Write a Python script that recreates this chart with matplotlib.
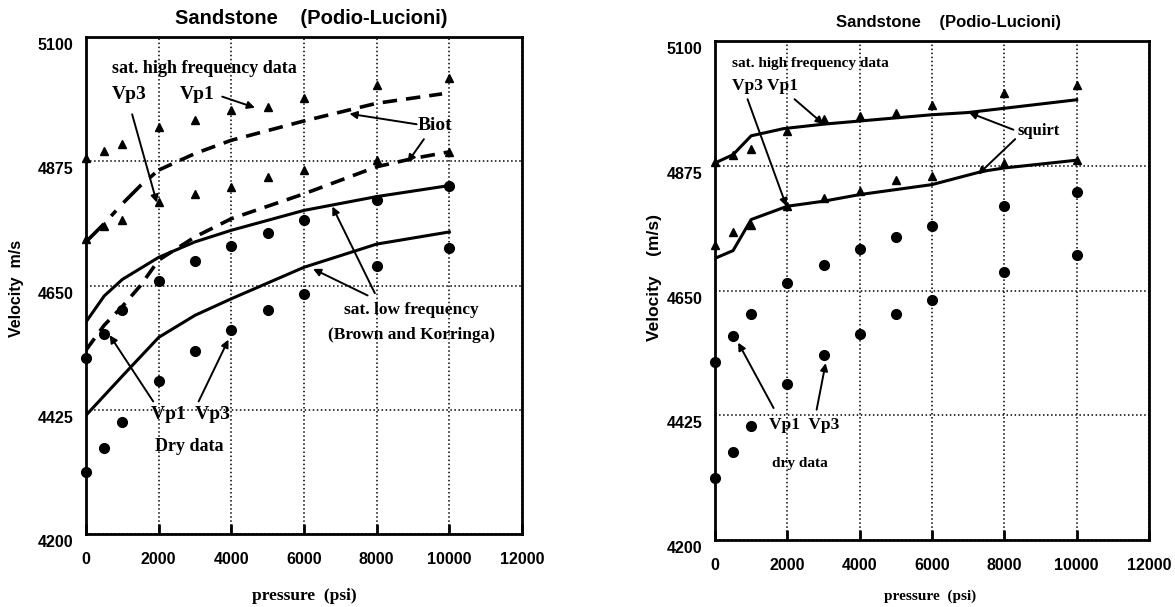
import matplotlib.pyplot as plt
import matplotlib.transforms as mtransforms

# ---------- data ----------
pressure = [0, 500, 1000, 2000, 3000, 4000, 5000, 6000, 8000, 10000]

# left panel (Biot / Brown-Korringa)
L_sat_vp1 = [4880, 4894, 4907, 4937, 4949, 4968, 4974, 4989, 5013, 5025]
L_sat_vp3 = [4735, 4757, 4769, 4801, 4815, 4828, 4847, 4860, 4877, 4892]
L_dry_vp1 = [4519, 4563, 4606, 4659, 4694, 4721, 4745, 4768, 4805, 4831]
L_dry_vp3 = [4312, 4356, 4403, 4477, 4531, 4570, 4606, 4635, 4686, 4718]

biot_hi_p = [0, 500, 1000, 1500, 2000, 3000, 4000, 6000, 8000, 9800]
biot_hi_v = [4729, 4762, 4798, 4831, 4859, 4889, 4913, 4948, 4980, 4997]
biot_lo_p = [0, 500, 1000, 1500, 2000, 3000, 4000, 6000, 8000, 9000, 10000]
biot_lo_v = [4533, 4578, 4612, 4650, 4696, 4738, 4771, 4816, 4865, 4880, 4892]

bk_hi_p = [0, 500, 1000, 2000, 3000, 4000, 6000, 8000, 10000]
bk_hi_v = [4584, 4631, 4661, 4701, 4729, 4750, 4786, 4811, 4831]
bk_lo_p = [0, 1000, 2000, 3000, 4000, 6000, 8000, 10000]
bk_lo_v = [4415, 4486, 4556, 4596, 4626, 4683, 4725, 4747]

# right panel (squirt)
R_sat_vp1 = [4882, 4895, 4906, 4938, 4960, 4965, 4971, 4985, 5007, 5020]
R_sat_vp3 = [4732, 4756, 4768, 4802, 4817, 4830, 4850, 4856, 4880, 4886]
R_dry_vp1 = [4521, 4568, 4608, 4663, 4696, 4724, 4747, 4767, 4803, 4827]
R_dry_vp3 = [4312, 4359, 4406, 4481, 4533, 4571, 4607, 4632, 4683, 4714]

sq_hi_p = [0, 500, 1000, 1900, 3000, 6000, 7000, 10000]
sq_hi_v = [4880, 4895, 4929, 4942, 4950, 4967, 4971, 4994]
sq_lo_p = [0, 500, 1000, 2000, 3000, 4000, 6000, 7400, 8000, 10000]
sq_lo_v = [4708, 4722, 4778, 4802, 4811, 4823, 4841, 4865, 4871, 4885]

x_ticks = [0, 2000, 4000, 6000, 8000, 10000, 12000]
y_ticks = [4200, 4425, 4650, 4875, 5100]

SANS = 'Liberation Sans'
SERIF = 'Liberation Serif'

fig = plt.figure(figsize=(11.75, 6.07), dpi=100)
W, H = 1175, 607
ARROW = dict(arrowstyle='-|>', color='k', lw=1.4, mutation_scale=11, shrinkA=0, shrinkB=0)


def make_axes(l, t, r, b):
    return fig.add_axes([l / W, 1 - b / H, (r - l) / W, (b - t) / H])


def style_axes(ax, fs):
    ax.set_xlim(0, 12000)
    ax.set_ylim(4200, 5100)
    ax.set_xticks(x_ticks)
    ax.set_yticks(y_ticks)
    ax.grid(True, ls=':', color='k', lw=1.1)
    for s in ax.spines.values():
        s.set_linewidth(2)
    ax.tick_params(axis='x', direction='in', length=7, width=2, pad=13)
    ax.tick_params(axis='y', direction='in', length=0, pad=9)
    for lab in ax.get_xticklabels() + ax.get_yticklabels():
        lab.set_fontfamily(SANS)
        lab.set_fontweight('bold')
        lab.set_fontsize(fs)
    # scanned labels sit a little below their grid lines
    off = mtransforms.ScaledTranslation(0, -7 / 100, fig.dpi_scale_trans)
    for lab in ax.get_yticklabels():
        lab.set_transform(lab.get_transform() + off)


def label(ax, txt, x, y, fs, ha='center'):
    ax.text(x, y, txt, ha=ha, va='center', fontsize=fs,
            fontfamily=SERIF, fontweight='bold')


# ---------- left panel ----------
ax1 = make_axes(86, 37, 522, 534)
ax1.plot(biot_hi_p[:5], biot_hi_v[:5], color='k', lw=2.6, dashes=(7, 3, 2, 3))
ax1.plot(biot_hi_p[4:], biot_hi_v[4:], color='k', lw=2.6, dashes=(4, 2.5))
ax1.plot(biot_lo_p, biot_lo_v, color='k', lw=2.6, dashes=(4, 2.5))
ax1.plot(bk_hi_p, bk_hi_v, color='k', lw=2.2)
ax1.plot(bk_lo_p, bk_lo_v, color='k', lw=2.2)
ax1.plot(pressure, L_sat_vp1, '^', color='k', ms=6, clip_on=False)
ax1.plot(pressure, L_sat_vp3, '^', color='k', ms=6, clip_on=False)
ax1.plot(pressure, L_dry_vp1, 'o', color='k', ms=7, clip_on=False)
ax1.plot(pressure, L_dry_vp3, 'o', color='k', ms=7, clip_on=False)
style_axes(ax1, 11.5)

label(ax1, 'sat. high frequency data', 3250, 5043, 13)
label(ax1, 'Vp3', 1200, 4995, 14)
label(ax1, 'Vp1', 3050, 4995, 14)
ax1.annotate('', xy=(4650, 4972), xytext=(3750, 4992), arrowprops=ARROW)
ax1.annotate('', xy=(1950, 4800), xytext=(1270, 4960), arrowprops=ARROW)
label(ax1, 'Biot', 9600, 4940, 14)
ax1.annotate('', xy=(7250, 4961), xytext=(9100, 4942), arrowprops=ARROW)
ax1.annotate('', xy=(8850, 4873), xytext=(9300, 4915), arrowprops=ARROW)
label(ax1, 'sat. low frequency', 8950, 4606, 12.5)
label(ax1, '(Brown and Korringa)', 8950, 4560, 12.5)
ax1.annotate('', xy=(6780, 4793), xytext=(7950, 4636), arrowprops=ARROW)
ax1.annotate('', xy=(6250, 4680), xytext=(7750, 4632), arrowprops=ARROW)
label(ax1, 'Vp1  Vp3', 2880, 4416, 14)
label(ax1, 'Dry data', 2830, 4358, 13)
ax1.annotate('', xy=(650, 4560), xytext=(1850, 4440), arrowprops=ARROW)
ax1.annotate('', xy=(3920, 4552), xytext=(3100, 4440), arrowprops=ARROW)

fig.text(311 / W, 1 - 18 / H, 'Sandstone    (Podio-Lucioni)', ha='center', va='center',
         fontsize=14.5, fontfamily=SANS, fontweight='bold')
fig.text(17 / W, 1 - 288 / H, 'Velocity  m/s', ha='center', va='center', rotation=90,
         fontsize=11.5, fontfamily=SANS, fontweight='bold')
fig.text(304 / W, 1 - 596 / H, 'pressure  (psi)', ha='center', va='center',
         fontsize=12.5, fontfamily=SERIF, fontweight='bold')

# ---------- right panel ----------
ax2 = make_axes(715, 41, 1149, 540)
ax2.plot(sq_hi_p, sq_hi_v, color='k', lw=2.2)
ax2.plot(sq_lo_p, sq_lo_v, color='k', lw=2.2)
ax2.plot(pressure, R_sat_vp1, '^', color='k', ms=6, clip_on=False)
ax2.plot(pressure, R_sat_vp3, '^', color='k', ms=6, clip_on=False)
ax2.plot(pressure, R_dry_vp1, 'o', color='k', ms=7, clip_on=False)
ax2.plot(pressure, R_dry_vp3, 'o', color='k', ms=7, clip_on=False)
style_axes(ax2, 11.5)

label(ax2, 'sat. high frequency data', 480, 5059, 11, ha='left')
label(ax2, 'Vp3 Vp1', 480, 5018, 12.5, ha='left')
ax2.annotate('', xy=(1975, 4802), xytext=(900, 4995), arrowprops=ARROW)
ax2.annotate('', xy=(3000, 4950), xytext=(2200, 4995), arrowprops=ARROW)
label(ax2, 'squirt', 8950, 4938, 12)
ax2.annotate('', xy=(7020, 4971), xytext=(8250, 4940), arrowprops=ARROW)
ax2.annotate('', xy=(7270, 4859), xytext=(8300, 4923), arrowprops=ARROW)
label(ax2, 'Vp1  Vp3', 2470, 4407, 12.5)
label(ax2, 'dry data', 2340, 4338, 11)
ax2.annotate('', xy=(640, 4556), xytext=(1620, 4438), arrowprops=ARROW)
ax2.annotate('', xy=(3060, 4519), xytext=(2810, 4435), arrowprops=ARROW)

fig.text(949 / W, 1 - 22 / H, 'Sandstone    (Podio-Lucioni)', ha='center', va='center',
         fontsize=12, fontfamily=SANS, fontweight='bold')
fig.text(655 / W, 1 - 278 / H, 'Velocity    (m/s)', ha='center', va='center', rotation=90,
         fontsize=12.5, fontfamily=SANS, fontweight='bold')
fig.text(930 / W, 1 - 596 / H, 'pressure  (psi)', ha='center', va='center',
         fontsize=11, fontfamily=SERIF, fontweight='bold')

fig.savefig('out.png', dpi=100)
